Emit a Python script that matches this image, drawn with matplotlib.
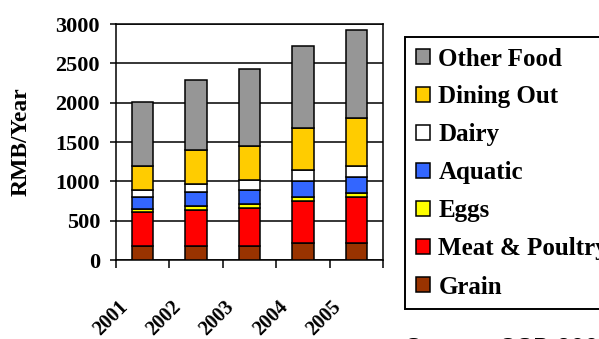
import numpy as np
import matplotlib
matplotlib.use('Agg')
import matplotlib.pyplot as plt
from matplotlib.transforms import ScaledTranslation

# 城镇居民食品支出构成 (RMB/Year)
years = ['2001', '2002', '2003', '2004', '2005']
grain = [175, 175, 175, 220, 220]
meat_poultry = [430, 455, 485, 535, 585]
eggs = [45, 55, 50, 50, 50]
aquatic = [155, 175, 180, 205, 205]
dairy = [90, 110, 125, 135, 130]
dining_out = [305, 425, 440, 530, 610]
other_food = [805, 890, 970, 1045, 1120]

series = [
    ('Grain', grain, '#993300'),
    ('Meat & Poultry', meat_poultry, '#FF0000'),
    ('Eggs', eggs, '#FFFF00'),
    ('Aquatic', aquatic, '#3366FF'),
    ('Dairy', dairy, '#FFFFFF'),
    ('Dining Out', dining_out, '#FFCC00'),
    ('Other Food', other_food, '#969696'),
]

plt.rcParams['font.family'] = ['Liberation Serif', 'DejaVu Serif']
plt.rcParams['font.weight'] = 'bold'

fig = plt.figure(figsize=(5.99, 3.39), dpi=100)
ax = fig.add_axes([116 / 599, 1 - 260 / 339, 267 / 599, 236 / 339])

x = np.arange(len(years))
bottom = np.zeros(len(years))
handles = []
for name, vals, color in series:
    b = ax.bar(x, vals, width=0.4, bottom=bottom, color=color,
               edgecolor='black', linewidth=1.1, label=name, zorder=3)
    handles.append(b)
    bottom += np.array(vals)

ax.set_xlim(-0.5, len(years) - 0.5)
ax.set_ylim(0, 3000)
ax.set_yticks(np.arange(0, 3001, 500))
ax.yaxis.grid(True, color='black', linewidth=1.1, zorder=0)
ax.set_axisbelow(True)
for s in ax.spines.values():
    s.set_linewidth(1.1)

# 分类刻度放在各组之间
ax.set_xticks(np.arange(len(years) + 1) - 0.5)
ax.set_xticklabels([])
ax.tick_params(axis='x', direction='out', length=6, width=1.1)
ax.tick_params(axis='y', direction='out', length=4.5, width=1.1,
               labelsize=16, pad=7)

# 年份标签倾斜 45 度
off = ScaledTranslation(-18 / 100, -44 / 100, fig.dpi_scale_trans)
for xi, yr in zip(x, years):
    ax.text(xi, 0, yr, rotation=45, ha='right', va='center',
            rotation_mode='anchor', fontsize=14.5, fontweight='bold',
            transform=ax.get_xaxis_transform() + off)

ax.set_ylabel('RMB/Year', fontsize=17, fontweight='bold')
ax.yaxis.set_label_coords(-0.315, 0.5)

leg = fig.legend(handles[::-1], [s[0] for s in series][::-1],
                 loc='upper left', bbox_to_anchor=(405 / 599, 1 - 37 / 339),
                 handlelength=0.56, handleheight=0.56,
                 handletextpad=0.36, labelspacing=0.6, borderpad=0.42,
                 borderaxespad=0, fancybox=False, framealpha=1,
                 edgecolor='black', prop={'weight': 'bold', 'size': 18})
leg.get_frame().set_linewidth(1.4)
for h in leg.legend_handles:
    h.set_linewidth(1.1)

fig.text(405 / 599, -17 / 339, 'Source: CSB 2006', fontsize=18,
         fontweight='normal', family=['Liberation Sans'], va='baseline')

fig.savefig('out.png', dpi=100)
